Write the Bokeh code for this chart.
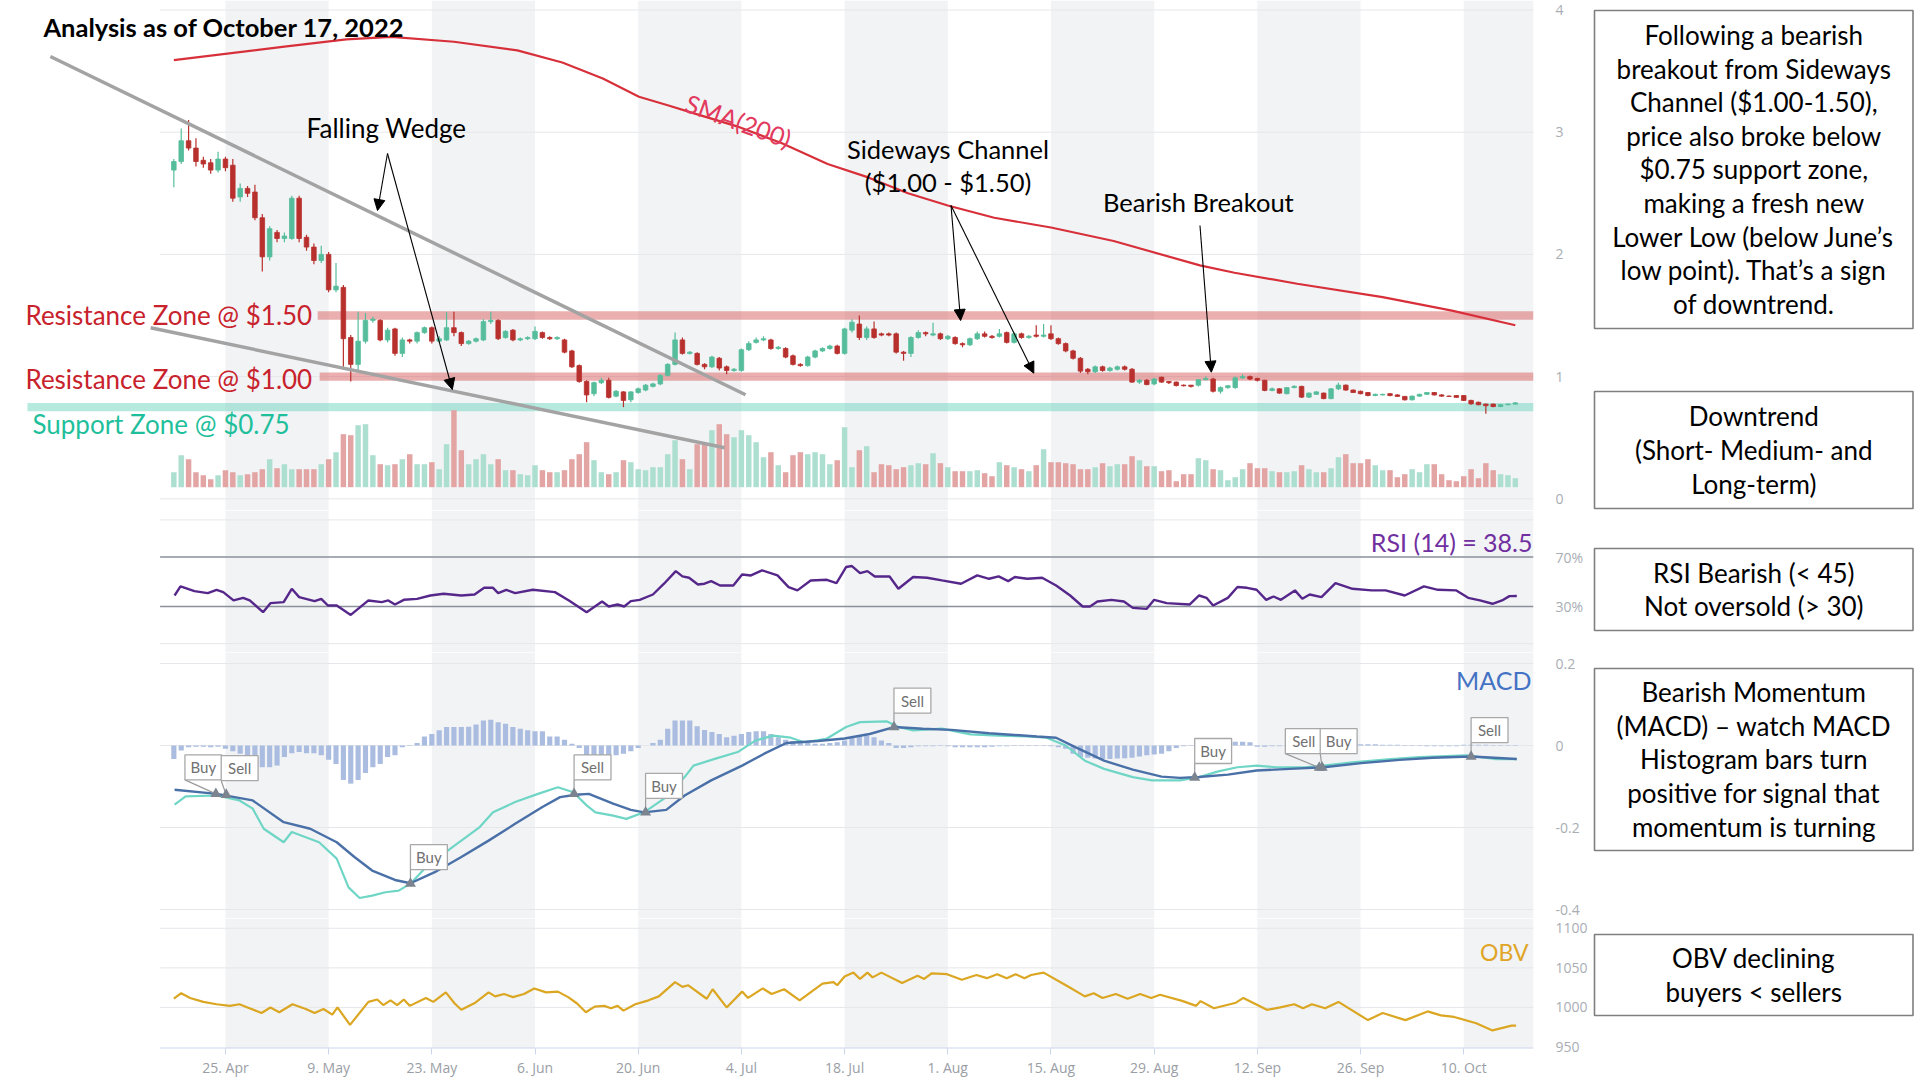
import numpy as np
import pandas as pd
from bokeh.plotting import figure
from bokeh.layouts import column, row
from bokeh.models import Range1d, LinearAxis, FixedTicker, Arrow, NormalHead, ColumnDataSource
from bokeh.embed import file_html
from bokeh.resources import INLINE
from bokeh.core.properties import value

# ---------------------------------------------------------------- data
start_date = "2022-04-18"
end_date = "2022-10-17"

tick_dates = ["2022-04-25", "2022-05-09", "2022-05-23", "2022-06-06", "2022-06-20", "2022-07-04",
              "2022-07-18", "2022-08-01", "2022-08-15", "2022-08-29", "2022-09-12", "2022-09-26",
              "2022-10-10"]
tick_labels = ["25. Apr", "9. May", "23. May", "6. Jun", "20. Jun", "4. Jul", "18. Jul", "1. Aug",
               "15. Aug", "29. Aug", "12. Sep", "26. Sep", "10. Oct"]

opens = [2.69, 2.76, 2.93, 2.87, 2.77, 2.75, 2.69, 2.78, 2.73, 2.47,
         2.54, 2.51, 2.30, 1.98, 2.18, 2.13, 2.13, 2.46, 2.14, 2.06,
         1.95, 2.00, 1.71, 1.73, 1.32, 1.10, 1.29, 1.46, 1.46, 1.30,
         1.39, 1.19, 1.30, 1.29, 1.36, 1.40, 1.29, 1.30, 1.40, 1.36,
         1.27, 1.29, 1.30, 1.45, 1.46, 1.32, 1.38, 1.30, 1.31, 1.31,
         1.36, 1.32, 1.31, 1.30, 1.21, 1.09, 0.96, 0.86, 0.95, 0.97,
         0.84, 0.875, 0.81, 0.87, 0.89, 0.92, 0.94, 1.01, 1.10, 1.30,
         1.19, 1.19, 1.10, 1.08, 1.15, 1.08, 1.05, 1.05, 1.22, 1.28,
         1.30, 1.30, 1.23, 1.23, 1.17, 1.10, 1.09, 1.16, 1.21, 1.23,
         1.25, 1.19, 1.38, 1.43, 1.32, 1.39, 1.35, 1.35, 1.35, 1.20,
         1.19, 1.32, 1.36, 1.34, 1.35, 1.31, 1.32, 1.27, 1.26, 1.31,
         1.35, 1.33, 1.33, 1.36, 1.28, 1.35, 1.32, 1.34, 1.33, 1.35,
         1.31, 1.27, 1.21, 1.15, 1.06, 1.04, 1.08, 1.05, 1.06, 1.08,
         1.06, 0.955, 0.97, 0.94, 0.995, 0.96, 0.955, 0.93, 0.93, 0.93,
         0.975, 0.98, 0.88, 0.91, 0.91, 0.99, 1.00, 0.985, 0.97, 0.887,
         0.90, 0.86, 0.91, 0.92, 0.832, 0.855, 0.865, 0.82, 0.90, 0.93,
         0.89, 0.88, 0.87, 0.845, 0.85, 0.86, 0.85, 0.838, 0.81, 0.84,
         0.855, 0.87, 0.85, 0.84, 0.845, 0.845, 0.805, 0.79, 0.775, 0.775,
         0.755, 0.77, 0.775]
highs = [2.78, 3.03, 3.10, 2.95, 2.80, 2.78, 2.84, 2.80, 2.78, 2.58,
         2.56, 2.57, 2.33, 2.23, 2.20, 2.18, 2.48, 2.48, 2.16, 2.09,
         2.07, 2.02, 1.93, 1.75, 1.34, 1.53, 1.52, 1.49, 1.47, 1.40,
         1.40, 1.32, 1.31, 1.37, 1.41, 1.41, 1.33, 1.53, 1.53, 1.37,
         1.30, 1.32, 1.47, 1.53, 1.47, 1.38, 1.39, 1.32, 1.33, 1.41,
         1.37, 1.33, 1.33, 1.31, 1.22, 1.10, 0.97, 0.96, 0.99, 0.99,
         0.89, 0.88, 0.88, 0.91, 0.94, 0.95, 1.02, 1.11, 1.36, 1.32,
         1.21, 1.20, 1.11, 1.17, 1.16, 1.09, 1.07, 1.23, 1.29, 1.32,
         1.33, 1.31, 1.25, 1.24, 1.18, 1.11, 1.17, 1.22, 1.24, 1.26,
         1.26, 1.40, 1.47, 1.50, 1.41, 1.45, 1.36, 1.36, 1.36, 1.21,
         1.33, 1.38, 1.37, 1.44, 1.36, 1.34, 1.33, 1.28, 1.32, 1.37,
         1.37, 1.34, 1.39, 1.37, 1.36, 1.36, 1.34, 1.42, 1.43, 1.42,
         1.32, 1.28, 1.22, 1.16, 1.07, 1.09, 1.09, 1.08, 1.09, 1.09,
         1.07, 0.98, 0.98, 0.99, 1.00, 0.965, 0.96, 0.935, 0.93, 0.98,
         1.00, 0.99, 0.92, 0.93, 1.00, 1.02, 1.01, 0.99, 0.975, 0.91,
         0.905, 0.915, 0.93, 0.925, 0.87, 0.88, 0.87, 0.905, 0.95, 0.935,
         0.895, 0.885, 0.875, 0.86, 0.86, 0.865, 0.855, 0.84, 0.845, 0.86,
         0.875, 0.875, 0.855, 0.845, 0.85, 0.85, 0.81, 0.795, 0.78, 0.78,
         0.775, 0.78, 0.79]
lows = [2.55, 2.74, 2.85, 2.72, 2.71, 2.66, 2.67, 2.68, 2.43, 2.43,
        2.47, 2.28, 1.86, 1.95, 2.10, 2.10, 2.12, 2.10, 2.03, 1.92,
        1.93, 1.69, 1.69, 1.08, 0.96, 1.05, 1.27, 1.44, 1.29, 1.28,
        1.17, 1.16, 1.27, 1.27, 1.35, 1.27, 1.28, 1.29, 1.33, 1.25,
        1.26, 1.28, 1.29, 1.43, 1.30, 1.31, 1.29, 1.29, 1.30, 1.30,
        1.31, 1.30, 1.30, 1.19, 1.07, 0.95, 0.79, 0.84, 0.94, 0.82,
        0.83, 0.75, 0.79, 0.86, 0.88, 0.91, 0.93, 1.00, 1.09, 1.18,
        1.18, 1.09, 1.06, 1.07, 1.05, 1.02, 1.04, 1.04, 1.21, 1.27,
        1.29, 1.22, 1.22, 1.15, 1.09, 1.08, 1.08, 1.15, 1.20, 1.22,
        1.18, 1.18, 1.36, 1.30, 1.30, 1.31, 1.33, 1.33, 1.19, 1.13,
        1.16, 1.31, 1.33, 1.33, 1.30, 1.30, 1.26, 1.24, 1.25, 1.30,
        1.32, 1.31, 1.32, 1.27, 1.27, 1.31, 1.31, 1.32, 1.32, 1.30,
        1.26, 1.20, 1.14, 1.03, 1.02, 1.03, 1.04, 1.04, 1.05, 1.05,
        0.95, 0.94, 0.93, 0.93, 0.95, 0.94, 0.92, 0.92, 0.91, 0.92,
        0.97, 0.87, 0.86, 0.90, 0.90, 0.98, 0.97, 0.96, 0.88, 0.88,
        0.86, 0.855, 0.905, 0.825, 0.825, 0.85, 0.815, 0.815, 0.89, 0.885,
        0.865, 0.855, 0.84, 0.84, 0.845, 0.84, 0.835, 0.805, 0.805, 0.835,
        0.85, 0.845, 0.835, 0.835, 0.828, 0.80, 0.77, 0.765, 0.695, 0.75,
        0.75, 0.765, 0.77]
closes = [2.76, 2.93, 2.87, 2.76, 2.74, 2.69, 2.78, 2.71, 2.46, 2.54,
          2.50, 2.30, 1.98, 2.21, 2.13, 2.15, 2.46, 2.13, 2.06, 1.95,
          2.00, 1.71, 1.74, 1.31, 1.10, 1.29, 1.46, 1.47, 1.30, 1.38,
          1.19, 1.30, 1.29, 1.36, 1.40, 1.29, 1.31, 1.40, 1.36, 1.27,
          1.29, 1.31, 1.45, 1.46, 1.31, 1.37, 1.30, 1.31, 1.32, 1.37,
          1.32, 1.31, 1.32, 1.20, 1.08, 0.96, 0.85, 0.95, 0.97, 0.83,
          0.88, 0.805, 0.875, 0.90, 0.93, 0.94, 1.01, 1.10, 1.30, 1.19,
          1.20, 1.10, 1.08, 1.16, 1.07, 1.05, 1.06, 1.22, 1.27, 1.30,
          1.31, 1.23, 1.24, 1.16, 1.10, 1.09, 1.16, 1.21, 1.23, 1.25,
          1.19, 1.39, 1.445, 1.32, 1.39, 1.32, 1.34, 1.34, 1.20, 1.19,
          1.32, 1.36, 1.35, 1.35, 1.31, 1.33, 1.27, 1.26, 1.31, 1.35,
          1.33, 1.32, 1.35, 1.28, 1.35, 1.32, 1.33, 1.33, 1.34, 1.31,
          1.27, 1.21, 1.15, 1.045, 1.04, 1.08, 1.05, 1.07, 1.08, 1.06,
          0.955, 0.97, 0.935, 0.98, 0.955, 0.95, 0.927, 0.925, 0.92, 0.975,
          0.985, 0.88, 0.91, 0.925, 0.99, 1.00, 0.98, 0.97, 0.887, 0.90,
          0.865, 0.91, 0.92, 0.832, 0.865, 0.875, 0.82, 0.90, 0.93, 0.89,
          0.87, 0.86, 0.845, 0.855, 0.855, 0.845, 0.838, 0.81, 0.84, 0.855,
          0.87, 0.85, 0.84, 0.838, 0.83, 0.805, 0.777, 0.77, 0.762, 0.755,
          0.77, 0.775, 0.785]
volume = [15, 32, 28, 15, 12, 8, 12, 17, 15, 12,
          13, 15, 18, 28, 19, 23, 18, 18, 18, 18,
          23, 28, 35, 53, 52, 62, 63, 32, 23, 22,
          23, 28, 33, 23, 23, 25, 18, 43, 77, 37,
          23, 28, 33, 23, 28, 17, 17, 13, 12, 22,
          17, 15, 15, 17, 28, 33, 45, 27, 15, 13,
          15, 27, 25, 18, 17, 20, 20, 33, 47, 28,
          18, 43, 43, 57, 63, 53, 50, 57, 52, 45,
          30, 35, 22, 15, 32, 35, 33, 35, 33, 23,
          27, 60, 20, 37, 41, 15, 23, 22, 18, 20,
          22, 24, 23, 34, 24, 20, 16, 16, 16, 17,
          14, 11, 25, 22, 20, 18, 16, 22, 38, 25,
          25, 24, 23, 18, 18, 20, 24, 21, 23, 23,
          31, 27, 21, 21, 16, 17, 6, 13, 13, 29,
          27, 18, 17, 7, 10, 18, 24, 19, 19, 16,
          15, 15, 16, 22, 18, 15, 15, 19, 30, 33,
          24, 24, 28, 22, 17, 17, 10, 13, 18, 15,
          23, 23, 13, 7, 6, 11, 18, 9, 24, 17,
          13, 12, 9]

sma_day = [0, 15, 23.4, 29.5, 38, 46.6, 52.7, 58.2, 63.1, 67, 70.8, 76.3, 82.5, 88.7, 94.2, 99.6,
           105, 111.3, 119, 127.5, 139.2, 143.9, 152.4, 164, 173.4, 182]
sma_val = [3.59, 3.70, 3.76, 3.78, 3.74, 3.67, 3.57, 3.44, 3.29, 3.22, 3.15, 3.05, 2.91, 2.74, 2.63, 2.50,
           2.40, 2.30, 2.22, 2.11, 1.91, 1.85, 1.76, 1.65, 1.54, 1.42]

rsi_day = [0.1, 0.9, 2.8, 4.6, 5.8, 6.7, 8.1, 9.4, 10.3, 12.1, 13.1, 14.9, 16, 17, 19.1, 20, 20.9, 22.1,
           24, 26.4, 28.2, 29.1, 30, 31.2, 33, 34.8, 36.6, 39, 40.8, 42.1, 43.3, 44, 45.1, 46.3, 48.7,
           51.7, 53.6, 56, 58.1, 59, 60.2, 61.1, 62, 63.2, 65, 66.5, 68.1, 69, 69.9, 71.1, 72, 72.9,
           74.1, 75.9, 77.1, 78.3, 79.8, 81.9, 83.4, 84.6, 86.4, 88.6, 89.9, 91.2, 92, 93.1, 94.1, 95.1,
           97.1, 98.3, 100.3, 102.2, 104.2, 106.8, 109, 110.6, 111.9, 113.2, 114.1, 115.8, 117.8,
           119.7, 121.6, 123.3, 124.3, 125.3, 127.2, 128.9, 130.1, 132, 133, 134.7, 137.8, 139.1,
           140.1, 141, 143, 144.3, 145.6, 146.9, 148.2, 149.2, 150.2, 152.1, 153.1, 154.1, 155.7,
           157.6, 159.9, 162.5, 164.4, 167, 169.6, 171.5, 174, 175.6, 177.2, 178.9, 180.2, 181.2, 182.2]
rsi_val = [38.9, 46.2, 42.4, 40.8, 43.5, 41.6, 34.9, 37, 34.9, 25.4, 32.7, 33.5, 44.3, 37.6, 34.3, 36.2,
           30.8, 30.8, 23.2, 34.9, 33.5, 34.9, 31.6, 35.4, 36.2, 38.9, 40.3, 38.9, 39.7, 45.1, 45.1, 40.8,
           43.5, 40.8, 43.5, 41.6, 34.9, 25.4, 34, 30, 31.6, 30, 34.3, 35.4, 39.7, 48.4, 58.6, 54.3,
           53.2, 47.8, 48.4, 50.5, 47, 47, 55.9, 55.1, 59.2, 55.1, 45.7, 43, 51, 51.6, 48.9, 61.9, 62.7,
           57, 58.6, 54.3, 54.3, 44.3, 53.8, 53.2, 51.1, 48.4, 55.1, 52.4, 54.3, 50.5, 53.8, 52.4, 53.2,
           47, 38.9, 30, 30, 34, 35.4, 34, 28.9, 28.1, 35.4, 32.7, 31.6, 38.9, 37, 30.8, 37, 45.7, 45.1,
           43.5, 35.4, 38.1, 35.4, 43, 36.2, 39.7, 37.6, 48.9, 44.3, 43, 43, 38.9, 46.2, 43.5, 43, 37,
           34.9, 32.2, 34.9, 38.4, 38.5]

signal_day = [0.1, 5.8, 10.7, 14.9, 18.5, 22.1, 24.5, 26.9, 30, 32.1, 35.4, 39, 42.7, 46.3, 50, 52.4,
              54.5, 56.3, 59.6, 62, 63.8, 66.8, 69.3, 72.9, 77.1, 80.1, 83.1, 87.4, 91, 94.4, 97.7,
              101.6, 105.5, 110.6, 117.1, 119.7, 122.3, 126.2, 130.1, 134, 136.5, 139.1, 143, 146.9,
              151.4, 156, 161.1, 166.3, 170.8, 176, 182.2]
signal_val = [-0.108, -0.118, -0.134, -0.187, -0.203, -0.236, -0.272, -0.305, -0.328, -0.336, -0.309,
              -0.272, -0.232, -0.191, -0.15, -0.126, -0.12, -0.118, -0.142, -0.157, -0.163, -0.157,
              -0.122, -0.085, -0.049, -0.02, 0.006, 0.011, 0.017, 0.028, 0.045, 0.041, 0.038, 0.030,
              0.022, 0.019, -0.004, -0.037, -0.059, -0.076, -0.079, -0.077, -0.071, -0.061, -0.057,
              -0.053, -0.043, -0.035, -0.030, -0.027, -0.033]
macd_day = [0.1, 1.6, 5.8, 8.9, 10.7, 12.2, 14.9, 16, 17.9, 19.7, 22.1, 23.7, 25.2, 26.9, 28.7, 30.5,
            32.1, 34.2, 37.8, 41.5, 43.3, 46.3, 49.4, 52.1, 54.2, 56, 57.2, 59.6, 61.4, 63.8, 66.8,
            69.3, 70.5, 73.5, 76.5, 78.9, 81.3, 83.7, 85.5, 88.5, 91.2, 93.1, 96.7, 98.3, 100.3, 104.2,
            108.1, 111.9, 115.8, 118.4, 121, 123.6, 126.2, 130.1, 132.7, 136.5, 139.1, 141.7, 144.3,
            146.9, 149.5, 153.4, 156, 159.9, 165.1, 169, 175.4, 179.2, 182.2]
macd_val = [-0.144, -0.124, -0.122, -0.134, -0.154, -0.203, -0.236, -0.211, -0.224, -0.236, -0.276,
            -0.346, -0.372, -0.366, -0.358, -0.354, -0.337, -0.297, -0.248, -0.199, -0.163, -0.138,
            -0.118, -0.102, -0.114, -0.146, -0.163, -0.171, -0.179, -0.163, -0.126, -0.077, -0.049,
            -0.032, -0.016, 0.012, 0.024, 0.019, 0.008, 0.016, 0.045, 0.057, 0.059, 0.045, 0.037, 0.041,
            0.027, 0.024, 0.022, 0.019, 0.0, -0.037, -0.057, -0.077, -0.085, -0.085, -0.077, -0.063,
            -0.053, -0.049, -0.053, -0.053, -0.049, -0.041, -0.033, -0.028, -0.024, -0.033, -0.033]
histogram = [-0.033, -0.012, -0.004, -0.003, -0.003, -0.004, -0.003, -0.008, -0.014, -0.020,
             -0.028, -0.045, -0.053, -0.053, -0.049, -0.028, -0.019, -0.016, -0.019, -0.019,
             -0.024, -0.035, -0.045, -0.084, -0.093, -0.084, -0.067, -0.053, -0.045, -0.028,
             -0.024, -0.004, 0.001, 0.006, 0.022, 0.028, 0.037, 0.045, 0.045, 0.045,
             0.046, 0.051, 0.061, 0.063, 0.057, 0.053, 0.045, 0.041, 0.037, 0.035,
             0.035, 0.022, 0.022, 0.014, 0.004, -0.006, -0.027, -0.027, -0.027, -0.027,
             -0.024, -0.020, -0.014, -0.006, 0.000, 0.006, 0.014, 0.041, 0.061, 0.061,
             0.061, 0.047, 0.038, 0.033, 0.028, 0.020, 0.024, 0.028, 0.033, 0.035,
             0.035, 0.028, 0.020, 0.014, 0.011, 0.008, 0.006, 0.004, 0.004, 0.006,
             0.008, 0.012, 0.019, 0.024, 0.024, 0.020, 0.012, 0.006, -0.006, -0.006,
             -0.004, -0.002, -0.002, -0.002, -0.001, -0.002, -0.004, -0.004, -0.004, -0.004,
             -0.004, -0.003, -0.002, -0.002, -0.001, -0.001, -0.001, -0.001, -0.001, -0.002,
             -0.004, -0.008, -0.020, -0.028, -0.030, -0.032, -0.033, -0.033, -0.032, -0.031,
             -0.030, -0.027, -0.024, -0.022, -0.020, -0.014, -0.006, -0.002, 0.001, 0.002,
             0.002, 0.003, 0.005, 0.008, 0.009, 0.009, 0.008, -0.003, -0.003, -0.002,
             -0.002, -0.002, -0.001, -0.001, -0.001, 0.001, 0.002, 0.002, 0.003, 0.003,
             0.003, 0.003, 0.003, 0.003, 0.002, 0.002, 0.002, 0.001, 0.001, 0.001,
             -0.002, -0.002, -0.002, -0.002, -0.002, 0.002, 0.002, 0.002, 0.002, 0.001,
             0.001, 0.001, 0.001]

flag_day = [5.7, 7.1, 32.1, 54.3, 64.0, 97.7, 138.5, 155.4, 155.8, 176.0]
flag_val = [-0.118, -0.12, -0.337, -0.118, -0.163, 0.045, -0.078, -0.054, -0.054, -0.027]
flag_text = ["Buy", "Sell", "Buy", "Sell", "Buy", "Sell", "Buy", "Sell", "Buy", "Sell"]

obv_day = [0, 1, 2.2, 4, 5.8, 7.6, 8.9, 10, 11.9, 13.1, 14.3, 16.1, 17.9, 19.1, 20.3, 21.5, 22.2, 23.9,
           26.4, 27.6, 28.4, 29.4, 30.3, 31.2, 32, 34.2, 35.2, 36.9, 38.1, 39, 40.9, 42.7, 43.6, 44.8,
           46, 47.5, 48.9, 50.5, 52.1, 53.5, 54.7, 55.9, 57.1, 58.4, 59.3, 60.2, 61, 62.6, 64.4, 65.8,
           68, 69, 69.8, 72.3, 73.1, 75, 77.1, 77.9, 79.9, 81.1, 82.8, 84.9, 88, 89.5, 90, 91, 92.2,
           93.1, 94.1, 94.8, 96, 98.8, 100.9, 101.8, 102.8, 104.9, 106.9, 108.9, 110.3, 111.7, 113,
           114.2, 115.4, 116.3, 118, 121.2, 123.6, 124.8, 126, 127.8, 129.4, 131.1, 132.6, 133.8,
           136.9, 138.7, 139.3, 141.1, 144.1, 145.1, 148.3, 150.1, 152, 153.2, 154.4, 156.2, 158,
           162, 164, 167.1, 170.1, 171.9, 173.7, 176.7, 178.9, 181.5, 182.1]
obv_val = [1011, 1018, 1012, 1007, 1004, 1002, 1004, 1000, 993, 1000, 994, 1004, 998, 993, 998, 991,
           1000, 978, 1007, 1010, 1003, 1009, 1003, 1010, 1002, 1012, 1007, 1019, 1005, 997, 1006,
           1019, 1014, 1017, 1013, 1017, 1024, 1019, 1020, 1013, 1005, 994, 1001, 1002, 999, 1002,
           996, 1004, 1009, 1014, 1032, 1026, 1028, 1011, 1023, 1000, 1020, 1012, 1024, 1017, 1023,
           1009, 1030, 1032, 1028, 1039, 1044, 1036, 1044, 1038, 1044, 1031, 1040, 1036, 1043, 1042,
           1035, 1041, 1037, 1042, 1037, 1042, 1037, 1041, 1044, 1027, 1014, 1018, 1012, 1017, 1011,
           1017, 1012, 1016, 1008, 1002, 1008, 999, 1006, 1012, 997, 1000, 1004, 999, 1004, 999,
           1007, 984, 993, 984, 995, 990, 988, 980, 971, 977, 977]

resistance_levels = [1.50, 1.00]
support_levels = [0.75]

box_texts = [
    "Following a bearish\nbreakout from Sideways\nChannel ($1.00-1.50),\nprice also broke below\n"
    "$0.75 support zone,\nmaking a fresh new\nLower Low (below June\u2019s\nlow point). That\u2019s a sign\nof downtrend.",
    "Downtrend\n(Short- Medium- and\nLong-term)",
    "RSI Bearish (< 45)\nNot oversold (> 30)",
    "Bearish Momentum\n(MACD) \u2013 watch MACD\nHistogram bars turn\npositive for signal that\nmomentum is turning",
    "OBV declining\nbuyers < sellers",
]

# ---------------------------------------------------------------- geometry (page pixels)
PX_DAY = 7.39
X_DAY0 = 173.8
TOTAL_W = 1914
TOTAL_H = 1079
W_MAIN = 1590
FRAME_L = 160
FRAME_R = 1537
BORDER_R = W_MAIN - FRAME_R
W_RIGHT = TOTAL_W - W_MAIN

def day_at(px):
    return (px - X_DAY0) / PX_DAY

def price_at(py):
    return (498.3 - py) / 122.2

def make_range(v0, p0, v1, p1, top, bot):
    s = (v1 - v0) / (p1 - p0)
    return Range1d(v0 + (bot - p0) * s, v0 + (top - p0) * s)

FONT = "Lato"
AX_FONT = "Open Sans"
STRIPE = "#f2f3f5"
GRID = "#e6e7ea"
UP = "#55bd9b"
DOWN = "#b8302d"
VUP = "#acdfd0"
VDOWN = "#e3a4a4"

dates = pd.date_range(start_date, end_date, freq="D")
day = np.asarray((dates - dates[0]).days, dtype=float)
tick_days = [int((pd.Timestamp(d) - dates[0]).days) for d in tick_dates]
XL = day_at(FRAME_L)
XR = day_at(FRAME_R)
stripe_l = tick_days[0::2]
stripe_r = tick_days[1::2] + [XR]


def pane(height, yr, bottom_border=0, xaxis=False):
    p = figure(width=W_MAIN, height=height, x_range=Range1d(day_at(0), XR), y_range=yr,
               output_backend="svg", toolbar_location=None,
               x_axis_location="below" if xaxis else None, y_axis_location=None,
               min_border_left=0, min_border_right=BORDER_R, min_border_top=0,
               min_border_bottom=bottom_border, background_fill_color="white",
               border_fill_color="white", outline_line_color=None)
    for g in p.grid:
        g.visible = False
    p.quad(left=stripe_l, right=stripe_r, bottom=yr.start, top=yr.end, fill_color=STRIPE, line_color=None)
    return p


def right_axis(p, ticks, overrides=None):
    ax = LinearAxis(ticker=FixedTicker(ticks=ticks), axis_line_color=None, major_tick_line_color=None,
                    minor_tick_line_color=None, major_label_standoff=16, major_label_text_color="#a9adb4",
                    major_label_text_font=AX_FONT, major_label_text_font_size="14px")
    if overrides:
        ax.major_label_overrides = overrides
    p.add_layout(ax, "right")


def hgrid(p, levels, color=GRID, width=1):
    p.segment(x0=[XL] * len(levels), x1=[XR] * len(levels), y0=levels, y1=levels, line_color=color,
              line_width=width)


# ---------------------------------------------------------------- price pane
P_TOP, P_BOT = 0, 510
pr_range = make_range(0, 498.3, 4, 9.5, P_TOP, P_BOT)
pp = pane(P_BOT - P_TOP, pr_range)
pp.extra_y_ranges = {"vol": make_range(0, 486.7, 100, 386.7, P_TOP, P_BOT)}
right_axis(pp, [0, 1, 2, 3, 4])
hgrid(pp, [0, 1, 2, 3, 4])

band_half = 4.2 / 122.2
pp.quad(left=[day_at(318), day_at(320)], right=[XR, XR],
        bottom=[v - band_half for v in resistance_levels], top=[v + band_half for v in resistance_levels],
        fill_color="#d95f5f", fill_alpha=0.5, line_color=None)
pp.quad(left=[day_at(27)], right=[XR], bottom=[v - band_half for v in support_levels],
        top=[v + band_half for v in support_levels], fill_color="#5fd1b8", fill_alpha=0.45, line_color=None)

o = np.array(opens); c = np.array(closes)
up = c >= o
src = ColumnDataSource(dict(day=day, o=o, h=np.array(highs), l=np.array(lows), c=c,
                            top=np.maximum(o, c), bot=np.minimum(o, c),
                            col=np.where(up, UP, DOWN), vcol=np.where(up, VUP, VDOWN),
                            vol=np.array(volume, dtype=float)))
pp.vbar(x="day", width=0.74, top="vol", bottom=0, fill_color="vcol", line_color=None, source=src,
        y_range_name="vol")
pp.segment(x0="day", y0="l", x1="day", y1="h", line_color="col", line_width=1.2, source=src)
pp.vbar(x="day", width=0.62, top="top", bottom="bot", fill_color="col", line_color="col", line_width=0.8,
        source=src)
pp.line(sma_day, sma_val, line_color="#d7303a", line_width=2.2)

# wedge lines (annotation)
pp.line([day_at(50), day_at(747)], [price_at(56), price_at(394.3)], line_color="#a3a3a3", line_width=3.5)
pp.line([day_at(150.5), day_at(726)], [price_at(327.3), price_at(447.3)], line_color="#a3a3a3", line_width=3.5)

arrows = [((388, 153), (378, 210)), ((388, 153), (453, 389)),
          ((953, 205), (962.6, 320)), ((953, 205), (1036, 372.7)),
          ((1202.6, 225), (1214, 371.7))]
for (sx, sy), (ex, ey) in arrows:
    pp.add_layout(Arrow(end=NormalHead(size=11, fill_color="black", line_color="black", line_width=1),
                        x_start=day_at(sx), y_start=price_at(sy), x_end=day_at(ex), y_end=price_at(ey),
                        line_color="black", line_width=1.1))

def ptext(p, px, py, txt, size, color="black", align="left", style="normal", angle=0.0):
    p.text(x=[day_at(px)], y=[price_at(py)], text=[txt], text_font=value(FONT), text_font_size=size,
           text_color=color, text_align=align, text_baseline="middle", text_font_style=style, angle=angle)

ptext(pp, 43, 26, "Analysis as of October 17, 2022", "25.5px", style="bold")
ptext(pp, 387, 127, "Falling Wedge", "26px", align="center")
ptext(pp, 950, 148, "Sideways Channel", "25.5px", align="center")
ptext(pp, 950, 181, "($1.00 - $1.50)", "25.5px", align="center")
ptext(pp, 1201, 201, "Bearish Breakout", "25.5px", align="center")
ptext(pp, 740, 120, "SMA(200)", "25px", color="#e23a5e", align="center", angle=-0.35)
ptext(pp, 25, 314, "Resistance Zone @ $1.50", "26px", color="#c8222c")
ptext(pp, 25, 378, "Resistance Zone @ $1.00", "26px", color="#c8222c")
ptext(pp, 32, 423, "Support Zone @ $0.75", "26px", color="#1fbf9c")

# ---------------------------------------------------------------- RSI pane
R_TOP, R_BOT = 510, 652
rsi_range = make_range(70, 556.5, 30, 606, R_TOP, R_BOT)
pr_ = pane(R_BOT - R_TOP, rsi_range)
right_axis(pr_, [30, 70], {30: "30%", 70: "70%"})
hgrid(pr_, [0, 100])
hgrid(pr_, [30, 70], color="#8a919b", width=1.6)
n = min(len(rsi_day), len(rsi_val))
pr_.line(rsi_day[:n], rsi_val[:n], line_color="#56278a", line_width=2.4)
pr_.text(x=[day_at(1536)], y=[70 + (556.5 - 541) / 1.2375], text=["RSI (14) = 38.5"], text_font=value(FONT),
         text_font_size="25px", text_color="#7030a0", text_align="right", text_baseline="middle")

# ---------------------------------------------------------------- MACD pane
MPX = 410.0
M_TOP, M_BOT = 652, 918
macd_range = make_range(0, 745, -0.2, 827, M_TOP, M_BOT)
pm = pane(M_BOT - M_TOP, macd_range)
right_axis(pm, [-0.4, -0.2, 0, 0.2], {-0.4: "-0.4", -0.2: "-0.2", 0: "0", 0.2: "0.2"})
hgrid(pm, [-0.4, -0.2, 0, 0.2])
pm.vbar(x=day, width=0.7, top=histogram, bottom=0, fill_color="#aabde0", line_color=None)
n = min(len(macd_day), len(macd_val))
pm.line(macd_day[:n], macd_val[:n], line_color="#6fd6c6", line_width=2.2)
n = min(len(signal_day), len(signal_val))
pm.line(signal_day[:n], signal_val[:n], line_color="#4a70a8", line_width=2.4)

flag_dx = [-31, -5, 0, 0, 0, 0, 0, -34, -2, 0]
FW, FH, FG = 37.0, 25.0, 14.0
bl = [d + dx / PX_DAY for d, dx in zip(flag_day, flag_dx)]
pm.segment(x0=flag_day, y0=flag_val, x1=bl, y1=[v + FG / MPX for v in flag_val], line_color="#9a9a9a",
           line_width=1.2)
pm.rect(x=[b + FW / 2 / PX_DAY for b in bl], y=[v + (FG + FH / 2) / MPX for v in flag_val],
        width=FW / PX_DAY, height=FH / MPX, fill_color="white", line_color="#a8a8a8", line_width=1.3)
pm.text(x=[b + FW / 2 / PX_DAY for b in bl], y=[v + (FG + FH / 2) / MPX for v in flag_val], text=flag_text,
        text_font=value(FONT), text_font_size="15px", text_color="#707070", text_align="center",
        text_baseline="middle")
pm.scatter(flag_day, flag_val, marker="triangle", size=11, fill_color="#7b848f", line_color=None)
pm.text(x=[day_at(1535)], y=[(745 - 679) / MPX], text=["MACD"], text_font=value(FONT), text_font_size="25px",
        text_color="#4472c4", text_align="right", text_baseline="middle")

# ---------------------------------------------------------------- OBV pane
O_TOP, O_BOT = 918, 1051
obv_range = make_range(1000, 1009, 1100, 928, O_TOP, O_BOT)
po = pane(TOTAL_H - O_TOP, obv_range, bottom_border=TOTAL_H - O_BOT, xaxis=True)
right_axis(po, [950, 1000, 1050, 1100])
hgrid(po, [1000, 1050, 1100])
po.segment(x0=[XL], x1=[XR], y0=[obv_range.start], y1=[obv_range.start], line_color="#ccd6eb", line_width=2)
n = min(len(obv_day), len(obv_val))
po.line(obv_day[:n], obv_val[:n], line_color="#dba622", line_width=2.2)
po.text(x=[day_at(1532)], y=[1000 + (1009 - 952) / 0.8107], text=["OBV"], text_font=value(FONT),
        text_font_size="23px", text_color="#e0a526", text_align="right", text_baseline="middle")
xa = po.xaxis[0]
xa.ticker = FixedTicker(ticks=tick_days)
xa.major_label_overrides = {d: lab for d, lab in zip(tick_days, tick_labels)}
xa.axis_line_color = None
xa.major_tick_line_color = "#ccd6eb"
xa.minor_tick_line_color = None
xa.major_tick_in = 0
xa.major_tick_out = 6
xa.major_label_standoff = 3
xa.major_label_text_font = AX_FONT
xa.major_label_text_font_size = "14px"
xa.major_label_text_color = "#9a9ea6"

# ---------------------------------------------------------------- note boxes
rb = figure(width=W_RIGHT, height=TOTAL_H, x_range=Range1d(0, W_RIGHT), y_range=Range1d(TOTAL_H, 0),
            output_backend="svg", toolbar_location=None, x_axis_location=None, y_axis_location=None,
            min_border=0, outline_line_color=None, background_fill_color="white", border_fill_color="white")
for g in rb.grid:
    g.visible = False
box_top = [10, 391, 548, 668, 934]
box_bot = [328, 508, 630, 850, 1015]
bx0 = 1594 - W_MAIN
bx1 = W_RIGHT - 1.5
rb.quad(left=[bx0] * 5, right=[bx1] * 5, top=box_top, bottom=box_bot,
        fill_color="white", line_color="#7f7f7f", line_width=1.6)
rb.text(x=[(bx0 + bx1) / 2] * 5, y=[(t + b) / 2 for t, b in zip(box_top, box_bot)], text=box_texts,
        text_font=value(FONT), text_font_size="26px", text_color="black", text_align="center",
        text_baseline="middle", text_line_height=1.05)

layout = row(column(pp, pr_, pm, po), rb)
open("out.html", "w").write(file_html(layout, INLINE, "chart"))
